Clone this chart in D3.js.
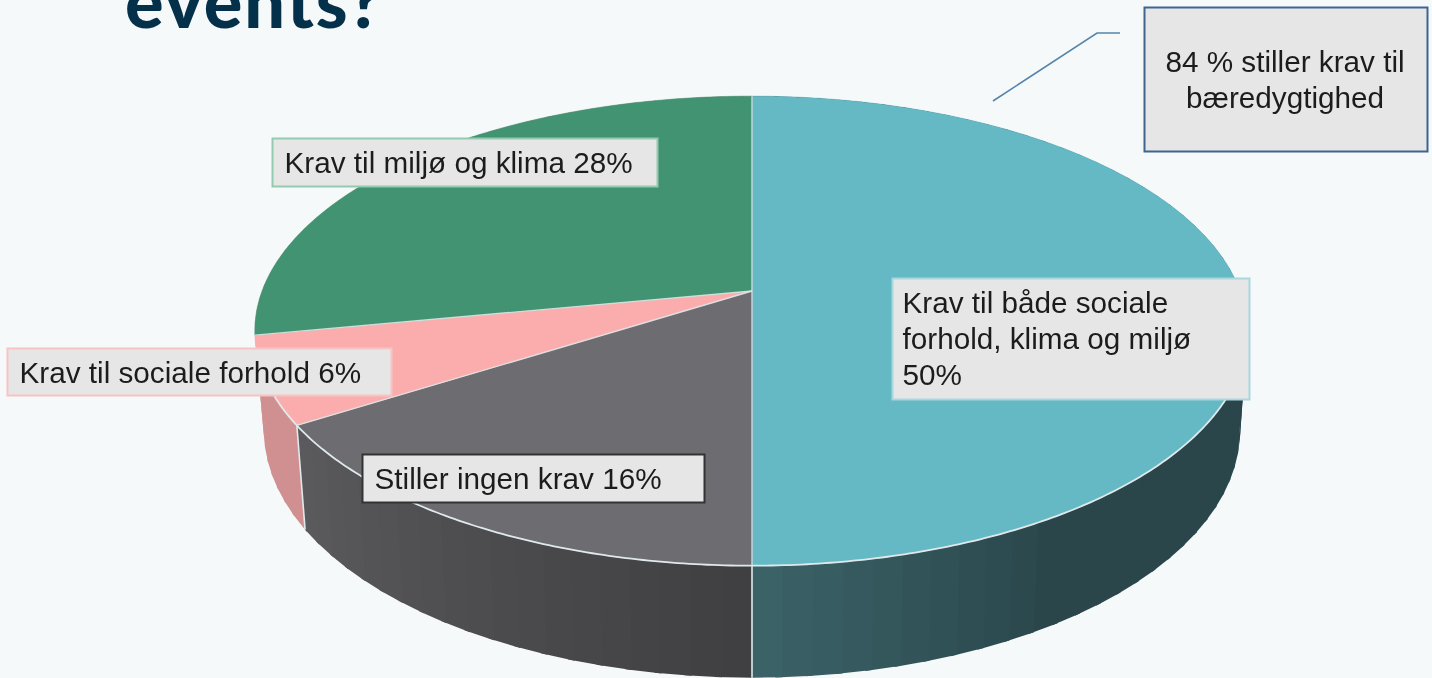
<!DOCTYPE html>
<html lang="da">
<head>
    <meta charset="UTF-8">
    <title>Krav til bæredygtighed</title>
    <style>
        html, body { margin: 0; padding: 0; background: #f5f9fa; overflow: hidden; }
        svg { display: block; filter: blur(0.6px); }
        text { font-family: "Liberation Sans", Arial, sans-serif; fill: #1c1c1c; }
    </style>
</head>
<body>
    <div id="graphic"></div>

    <script src="https://cdn.jsdelivr.net/npm/d3@7"></script>
    <script>
            // values
            var categories = ['both', 'none', 'social', 'environment'];
            var shares = [50, 16, 6, 28];
            var labelLines = [
                ['Krav til både sociale', 'forhold, klima og miljø', '50%'],
                ['Stiller ingen krav 16%'],
                ['Krav til sociale forhold 6%'],
                ['Krav til miljø og klima 28%']
            ];
            var calloutLines = ['84 % stiller krav til', 'bæredygtighed'];
            var titleText = 'events?';

            // styles. the green wall never shows except a sliver next to the pink one
            var topColors = ['#65b9c5', '#6d6c71', '#fbadae', '#429371'];
            var wallDark = ['#2a464b', '#3f3e41', '#d09091', '#d09091'];
            var wallLight = ['#3b6368', '#5b5a5d', '#d09091', '#d09091'];
            var boxBorders = ['#a8d7de', '#333333', '#f8c3c3', '#93cbb0'];

            // label boxes: x, y, w, h, text inset
            var boxes = [
                [892.5, 278.5, 357, 121, 10],
                [362.5, 454.5, 342, 48, 12],
                [7.5, 348.5, 384, 47, 12],
                [272.5, 138.5, 385, 48, 12]
            ];

            var width = 1432;
            var height = 678;

            // pie centre on screen and perspective of the top face
            var cx = 752, cy = 291, radiusX = 488, radiusY = 228, tilt = 0.17, leftStretch = 1.004;
            // the two ellipses of the disc as they end up on screen
            var topEllipse = { x: 752, y: 331, rx: 495, ry: 235 };
            var bottomEllipse = { x: 752, y: 430, rx: 488, ry: 248 };

            function flat(angle) {
                var u = Math.sin(angle), v = Math.cos(angle);
                var w = 1 + tilt * v;
                return [cx + radiusX * u / w, cy - radiusY * v / w];
            }

            function project(angle) {
                var p = flat(angle);
                if (p[0] < cx) p[0] = cx + (p[0] - cx) * leftStretch;
                return p;
            }

            function projectBottom(angle) {
                var p = flat(angle);
                return [
                    bottomEllipse.x + bottomEllipse.rx * (p[0] - topEllipse.x) / topEllipse.rx,
                    bottomEllipse.y + bottomEllipse.ry * (p[1] - topEllipse.y) / topEllipse.ry
                ];
            }

            var svg = d3.select('#graphic')
                .append('svg')
                .attr('width', width)
                .attr('height', height);

            var pie = d3.pie().sort(null).value(function(d) { return d; });
            var arcs = pie(shares);
            var line = d3.line();
            var edgeColor = '#dfe9eb';

            // title, the top of it is cut off by the crop
            svg.append('text')
                .attr('x', 125)
                .attr('y', 28)
                .style('font-family', 'Lato, sans-serif')
                .style('font-weight', 900)
                .style('font-size', '72px')
                .style('letter-spacing', '2px')
                .style('fill', '#04304a')
                .text(titleText);

            // side wall, made of narrow bands like the original
            var bandWidth = 3 * Math.PI / 180;
            arcs.forEach(function(a, i) {
                var shade = d3.scaleLinear()
                    .domain(i === 0 ? [a.endAngle, a.endAngle - 0.55] : [a.startAngle, a.endAngle])
                    .range(i === 0 ? [wallLight[i], wallDark[i]] : [wallDark[i], wallLight[i]])
                    .clamp(true);
                var steps = d3.range(a.startAngle, a.endAngle, bandWidth).concat([a.endAngle]);
                d3.pairs(steps).forEach(function(s) {
                    // a little overlap so no seams show between the bands
                    var end = Math.min(s[1] + 0.012, a.endAngle);
                    var quad = [project(s[0]), project(end), projectBottom(end), projectBottom(s[0])];
                    svg.append('path')
                        .attr('d', line(quad) + 'Z')
                        .attr('fill', shade((s[0] + s[1]) / 2));
                });
            });

            // wall dividers at the front
            [arcs[1].startAngle, arcs[2].startAngle].forEach(function(angle) {
                svg.append('path')
                    .attr('d', line([project(angle), projectBottom(angle)]))
                    .attr('stroke', edgeColor)
                    .attr('stroke-width', 1.6)
                    .attr('fill', 'none');
            });

            // top face
            arcs.forEach(function(a, i) {
                var pts = d3.range(a.startAngle, a.endAngle, 0.01).concat([a.endAngle]).map(project);
                svg.append('path')
                    .attr('d', line([[cx, cy]].concat(pts)) + 'Z')
                    .attr('fill', topColors[i])
                    .attr('stroke', topColors[i])
                    .attr('stroke-width', 0.5);
            });

            // rim along the front and the light lines between slices
            var rimStart = Math.PI * 0.62;
            var rimEnd = arcs[2].startAngle + (arcs[2].endAngle - arcs[2].startAngle) * 0.45;
            svg.append('path')
                .attr('d', line(d3.range(rimStart, rimEnd, 0.01).map(project)))
                .attr('fill', 'none')
                .attr('stroke', edgeColor)
                .attr('stroke-width', 1.8);
            [0, arcs[1].startAngle, arcs[2].startAngle, arcs[3].startAngle].forEach(function(angle) {
                svg.append('path')
                    .attr('d', line([[cx, cy], project(angle)]))
                    .attr('stroke', edgeColor)
                    .attr('stroke-width', 1.4)
                    .attr('opacity', 0.85)
                    .attr('fill', 'none');
            });

            // slice labels
            boxes.forEach(function(b, i) {
                svg.append('rect')
                    .attr('x', b[0]).attr('y', b[1])
                    .attr('width', b[2]).attr('height', b[3])
                    .attr('fill', '#e6e6e6')
                    .attr('stroke', boxBorders[i])
                    .attr('stroke-width', 2);
                labelLines[i].forEach(function(t, j) {
                    svg.append('text')
                        .attr('x', b[0] + b[4])
                        .attr('y', b[1] + 34 + j * 36)
                        .style('font-size', '29.7px')
                        .text(t);
                });
            });

            // callout
            svg.append('path')
                .attr('d', line([[993, 101], [1097, 33], [1120, 33]]))
                .attr('fill', 'none')
                .attr('stroke', '#5585ab')
                .attr('stroke-width', 1.6);
            svg.append('rect')
                .attr('x', 1144.5).attr('y', 7.5)
                .attr('width', 283).attr('height', 144)
                .attr('fill', '#e6e6e6')
                .attr('stroke', '#3d6591')
                .attr('stroke-width', 2);
            calloutLines.forEach(function(t, j) {
                svg.append('text')
                    .attr('x', 1285)
                    .attr('y', 72 + j * 35.5)
                    .attr('text-anchor', 'middle')
                    .style('font-size', '29.7px')
                    .text(t);
            });
    </script>
</body>
</html>
